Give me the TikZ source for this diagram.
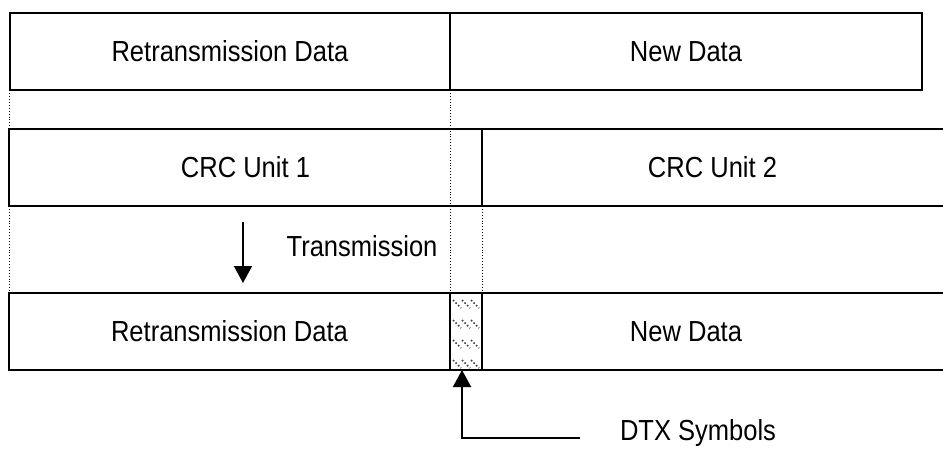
\documentclass[tikz,border=0pt]{standalone}
\usepackage{fontspec}
\setmainfont{Liberation Sans}[FakeStretch=0.88]
\usetikzlibrary{arrows.meta, positioning}

\begin{document}
\begin{tikzpicture}[x=1pt, y=-1pt,
    cell/.style={inner sep=0pt, outer sep=0pt, minimum height=77pt, font=\fontsize{29}{32}\selectfont},
    framed/.style={cell, draw, line width=1.5pt},
    row/.style={line width=1.5pt},
    guide/.style={dotted, line width=0.9pt},
    hatch/.style={black!75, dotted, line width=1.6pt},
    arrow/.style={draw, line width=1.5pt, -{Triangle[width=18pt, length=17pt]}}
]
    \useasboundingbox (0,0) rectangle (943,450);
    \coordinate (rowend) at (943,0);

    % Top row
    \node[framed, anchor=north west, minimum width=440pt] (retx) at (10,13) {Retransmission Data};
    \node[framed, anchor=north west, minimum width=472pt] (newd) at (retx.north east) {New Data};

    % Middle row
    \node[cell, anchor=north west, minimum width=473pt] (crc1) at (9,129) {CRC Unit 1};
    \node[cell, anchor=north west, minimum width=461pt] (crc2) at (crc1.north east) {CRC Unit 2};
    \draw[row] (crc2.north east) -- (crc1.north west) -- (crc1.south west) -- (crc2.south east);
    \draw[row] (crc1.north east) -- (crc1.south east);

    % Bottom row
    \node[cell, anchor=north west, minimum width=441pt] (retx2) at (9,293) {Retransmission Data};
    \node[framed, anchor=north west, minimum width=32pt] (dtx) at (retx2.north east) {};
    \node[cell, anchor=north west, minimum width=408pt] (new2) at (dtx.north east) {New Data};
    \draw[row] (retx2.north west -| rowend) -- (retx2.north west) -- (retx2.south west) -- (retx2.south west -| rowend);
    \begin{scope}
        \clip (dtx.north west) rectangle (dtx.south east);
        \foreach \y in {300,320,340,360}
            \foreach \x in {453,462,471}
                \draw[hatch] (\x,\y) -- ++(8,8);
    \end{scope}

    % Guides
    \draw[guide] (crc1.north west) -- ++(0,-64);
    \draw[guide] (crc1.south west) -- (retx2.north west);
    \draw[guide] (retx.south east) -- (dtx.north west);
    \draw[guide] (crc1.south east) -- (dtx.north east);

    % Transmission
    \coordinate (txtop) at (243,222);
    \coordinate (txbot) at (243,283);
    \draw[arrow] (txtop) -- (txbot);
    \node[cell, minimum height=0pt] (txlabel) at (362,246) {Transmission};

    % DTX pointer
    \node[cell, minimum height=0pt, anchor=west] (dtxlabel) at (620,433) {DTX Symbols};
    \coordinate (lineend) at (580,438);
    \draw[arrow] (lineend) -| ([xshift=-4pt]dtx.south);
\end{tikzpicture}
\end{document}
